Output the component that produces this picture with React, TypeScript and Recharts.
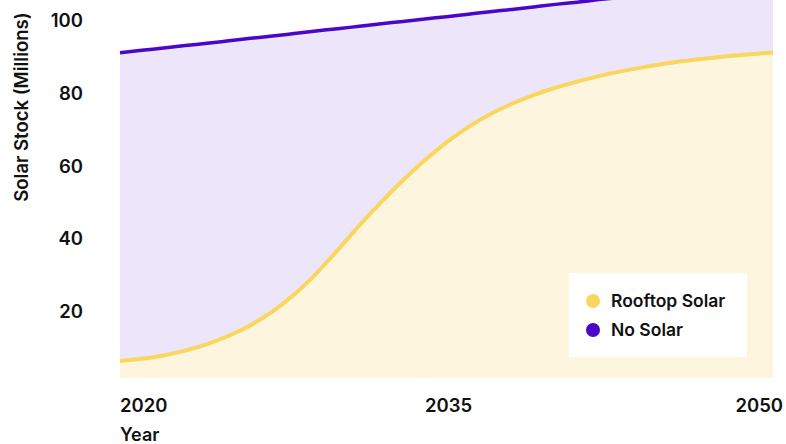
import React from "react";
import { ComposedChart, Area, Line, XAxis, YAxis } from "recharts";

const years = [
  2020, 2021, 2022, 2023, 2024, 2025, 2026, 2027, 2028, 2029, 2030, 2031, 2032, 2033, 2034, 2035,
  2036, 2037, 2038, 2039, 2040, 2041, 2042, 2043, 2044, 2045, 2046, 2047, 2048, 2049, 2050,
];
const rooftopSolar = [
  4.7, 5.3, 6.2, 7.5, 9.3, 11.6, 14.5, 18.2, 22.9, 28.6, 35.1, 41.9, 48.3, 54.3, 59.8, 64.7,
  68.9, 72.4, 75.3, 77.7, 79.7, 81.4, 82.9, 84.2, 85.3, 86.3, 87.1, 87.8, 88.4, 88.9, 89.4,
];
const noSolar = [
  84.6, 84.7, 84.4, 83.8, 82.6, 81.0, 78.8, 75.7, 71.7, 66.7, 60.8, 54.7, 49.0, 43.6, 38.8, 34.5,
  31.0, 28.2, 25.9, 24.2, 22.9, 21.8, 21.0, 20.3, 19.9, 19.6, 19.4, 19.4, 19.5, 19.6, 19.8,
];
const xTicks = [2020, 2035, 2050];
const yTicks = [20, 40, 60, 80, 100];

const series = [
  { key: "rooftop", name: "Rooftop Solar", line: "#F9D65E", fill: "#FDF5DE", width: 4 },
  { key: "none", name: "No Solar", line: "#4B06C9", fill: "#EDE5F9", width: 3.5 },
];

const data = years.map((year, i) => ({ year, rooftop: rooftopSolar[i], none: noSolar[i] }));

const FONT = "Inter, 'Noto Sans', sans-serif";
const WEIGHT = 600;

function XTick({ x, payload }: any) {
  const v = payload.value;
  const anchor = v === xTicks[0] ? "start" : v === xTicks[xTicks.length - 1] ? "end" : "middle";
  const dx = anchor === "end" ? 10 : anchor === "middle" ? 2 : 0;
  return (
    <text x={x + dx} y={412} textAnchor={anchor} fontFamily={FONT} fontSize={18.5} fontWeight={WEIGHT} fill="#111">
      {v}
    </text>
  );
}

function YTick({ y, payload }: any) {
  return (
    <text x={83} y={y + 13} textAnchor="end" fontFamily={FONT} fontSize={18.5} fontWeight={WEIGHT} fill="#111">
      {payload.value}
    </text>
  );
}

// legend sits over the plot, bottom right
function LegendBox() {
  return (
    <div
      style={{
        position: "absolute",
        left: 569,
        top: 273,
        background: "#fff",
        width: 178,
        height: 84,
        boxSizing: "border-box",
        padding: "13px 0 0 17px",
      }}
    >
      {series.map((s) => (
        <div
          key={s.key}
          style={{ display: "flex", alignItems: "center", height: 29, fontFamily: FONT, fontSize: 17.5, fontWeight: WEIGHT, color: "#111" }}
        >
          <span style={{ width: 14, height: 14, borderRadius: 7, background: s.line, marginRight: 11 }} />
          {s.name}
        </div>
      ))}
    </div>
  );
}

export default function App() {
  return (
    <div style={{ position: "absolute", left: 0, top: 0, width: 786, height: 444, background: "#fff" }}>
      <ComposedChart width={786} height={444} data={data} margin={{ top: 0, right: 13, bottom: 0, left: 20 }}>
        <XAxis
          dataKey="year"
          type="number"
          domain={[2020, 2050]}
          ticks={xTicks}
          axisLine={false}
          tickLine={false}
          height={66}
          tick={<XTick />}
          interval={0}
          label={{
            content: () => (
              <text x={120} y={441} fontFamily={FONT} fontSize={18} fontWeight={WEIGHT} fill="#111">
                Year
              </text>
            ),
          }}
        />
        <YAxis
          type="number"
          domain={[0, 103.8]}
          allowDataOverflow
          ticks={yTicks}
          axisLine={false}
          tickLine={false}
          width={100}
          tick={<YTick />}
          interval={0}
          label={{
            content: () => (
              <text
                x={21}
                y={107}
                transform="rotate(-90 21 107)"
                textAnchor="middle"
                dominantBaseline="central"
                fontFamily={FONT}
                fontSize={18.5}
                fontWeight={WEIGHT}
                fill="#111"
              >
                Solar Stock (Millions)
              </text>
            ),
          }}
        />
        {series.map((s) => (
          <Area
            key={s.key}
            dataKey={s.key}
            name={s.name}
            stackId="stock"
            type="monotone"
            stroke={s.key === "rooftop" ? "none" : s.line}
            strokeWidth={s.width}
            fill={s.fill}
            fillOpacity={1}
            isAnimationActive={false}
            dot={false}
            activeDot={false}
          />
        ))}
        {/* rooftop edge drawn last so the stacked fill above doesn't cover it */}
        <Line
          dataKey="rooftop"
          type="monotone"
          stroke={series[0].line}
          strokeWidth={series[0].width}
          dot={false}
          activeDot={false}
          legendType="none"
          isAnimationActive={false}
        />
      </ComposedChart>
      <LegendBox />
    </div>
  );
}
